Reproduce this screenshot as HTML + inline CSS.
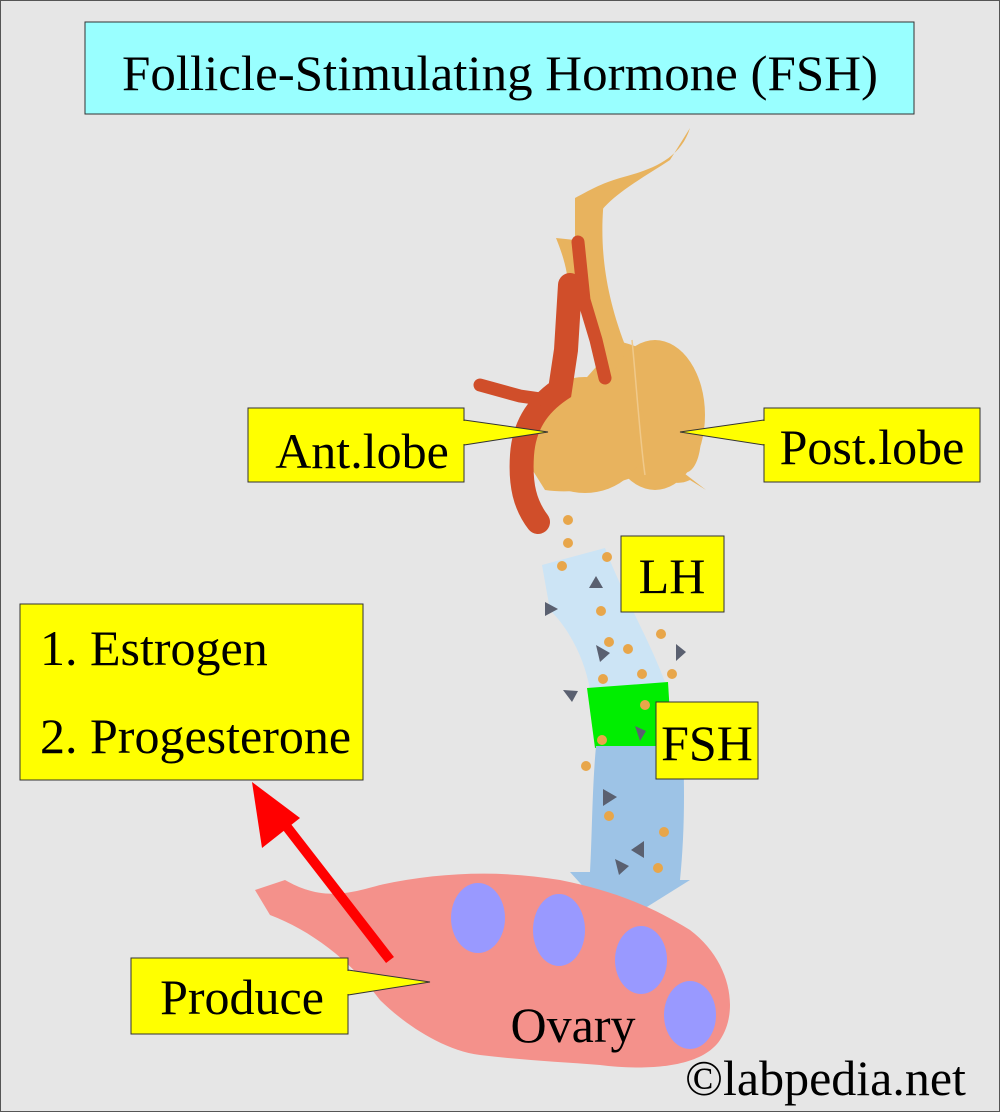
<!DOCTYPE html>
<html><head><meta charset="utf-8"><style>
html,body{margin:0;padding:0;background:#e6e6e6}
svg{display:block}
text{font-family:"Liberation Serif",serif;fill:#000}
</style></head><body>
<svg width="1000" height="1112" viewBox="0 0 1000 1112" xmlns="http://www.w3.org/2000/svg">
<rect x="0.5" y="0.5" width="999" height="1111" fill="#e6e6e6" stroke="#555" stroke-width="1"/>
<rect x="85" y="22" width="829" height="92" fill="#99ffff" stroke="#333" stroke-width="1"/>
<text x="500" y="90" font-size="50" text-anchor="middle" textLength="756" lengthAdjust="spacingAndGlyphs">Follicle-Stimulating Hormone (FSH)</text>

<!-- pituitary -->
<path d="M690,128 C680,160 650,170 620,178 C600,184 590,190 575,198 L575,240 L556,238 C565,260 570,280 568,300 L590,300 L605,340 C640,340 690,370 700,420 C705,460 690,480 680,470 L706,490 L690,480 C670,490 650,470 640,475 C610,485 580,495 545,490 L520,450 C525,420 545,395 580,385 L620,340 C610,300 600,260 590,230 C600,200 640,180 670,160 Z" fill="#e8b35e"/>
<path d="M575,200 L605,190 C600,230 600,280 625,345 L600,380 L580,300 Z" fill="#e8b35e"/>
<ellipse cx="655" cy="415" rx="50" ry="75" fill="#e8b35e"/>
<ellipse cx="585" cy="435" rx="62" ry="58" fill="#e8b35e"/>
<path d="M632,340 C636,380 640,440 645,475" stroke="#f0c98a" stroke-width="1.5" fill="none"/>
<!-- vessels -->
<path d="M578,242 L584,300 L596,340 L605,378" stroke="#d04e2a" stroke-width="13" stroke-linecap="round" fill="none"/>
<path d="M570,285 L566,350 L560,390 C538,405 524,425 522,455 C520,485 525,505 538,522" stroke="#d04e2a" stroke-width="24" stroke-linecap="round" fill="none"/>
<path d="M480,385 L520,396 L548,400" stroke="#d04e2a" stroke-width="13" stroke-linecap="round" fill="none"/>

<!-- hormone stream -->
<path d="M542,565 L605,548 C625,600 650,640 668,690 L590,690 C585,660 570,630 550,610 Z" fill="#cce4f5"/>
<path d="M587,688 L668,682 L672,748 L595,748 Z" fill="#00ee00"/>
<path d="M596,746 L683,746 C685,800 684,840 680,880 L690,880 L618,925 L570,872 L590,872 C592,840 592,790 596,746 Z" fill="#9dc3e6"/>
<g fill="#e8a64a">
<circle cx="568" cy="520" r="5"/><circle cx="568" cy="543" r="5"/><circle cx="562" cy="566" r="5"/>
<circle cx="607" cy="557" r="5"/><circle cx="601" cy="611" r="5"/><circle cx="609" cy="642" r="5"/>
<circle cx="628" cy="649" r="5"/><circle cx="661" cy="634" r="5"/><circle cx="642" cy="674" r="5"/>
<circle cx="603" cy="679" r="5"/><circle cx="672" cy="674" r="5"/><circle cx="645" cy="705" r="5"/>
<circle cx="602" cy="740" r="5"/><circle cx="586" cy="766" r="5"/><circle cx="609" cy="816" r="5"/>
<circle cx="664" cy="832" r="5"/><circle cx="658" cy="868" r="5"/>
</g>
<g fill="#5a6070">
<polygon points="589,588 603,588 596,576"/><polygon points="545,602 545,616 558,609"/>
<polygon points="596,645 600,662 610,653"/><polygon points="676,644 676,661 686,652"/>
<polygon points="563,690 572,702 578,691"/><polygon points="635,726 640,741 646,731"/>
<polygon points="603,789 603,806 617,797"/><polygon points="631,850 644,841 644,858"/>
<polygon points="615,859 619,875 629,866"/>
</g>

<!-- ovary -->
<path d="M255,890 L285,880 C320,900 345,895 380,885 C440,872 500,870 560,880 C610,890 650,905 690,930 C730,960 740,1010 720,1040 C700,1070 640,1070 600,1065 C560,1062 520,1060 480,1055 C440,1050 400,1020 380,1000 C350,960 310,930 270,915 Z" fill="#f4918b"/>
<g fill="#9999ff">
<ellipse cx="478" cy="918" rx="27" ry="35"/><ellipse cx="559" cy="930" rx="26" ry="36"/>
<ellipse cx="641" cy="960" rx="26" ry="34"/><ellipse cx="690" cy="1015" rx="26" ry="34"/>
</g>
<text x="573" y="1042" font-size="50" text-anchor="middle">Ovary</text>

<!-- red arrow -->
<line x1="390" y1="960" x2="280" y2="818" stroke="#ff0000" stroke-width="10"/>
<polygon points="252,782 300,818 262,848" fill="#ff0000"/>

<!-- callouts -->
<polygon points="464,420 548,432 464,445" fill="#ffff00" stroke="#333"/>
<rect x="248" y="408" width="216" height="74" fill="#ffff00" stroke="#333"/>
<rect x="463" y="421" width="3" height="23" fill="#ffff00"/>
<text x="362" y="468" font-size="50" text-anchor="middle">Ant.lobe</text>

<polygon points="764,420 680,432 764,445" fill="#ffff00" stroke="#333"/>
<rect x="764" y="408" width="216" height="74" fill="#ffff00" stroke="#333"/>
<rect x="762" y="421" width="3" height="23" fill="#ffff00"/>
<text x="872" y="464" font-size="50" text-anchor="middle">Post.lobe</text>

<rect x="621" y="536" width="103" height="76" fill="#ffff00" stroke="#333"/>
<text x="672" y="593" font-size="50" text-anchor="middle">LH</text>
<rect x="656" y="702" width="102" height="77" fill="#ffff00" stroke="#333"/>
<text x="707" y="760" font-size="50" text-anchor="middle">FSH</text>

<rect x="20" y="604" width="343" height="176" fill="#ffff00" stroke="#333"/>
<text x="40" y="665" font-size="50">1. Estrogen</text>
<text x="40" y="753" font-size="50">2. Progesterone</text>

<polygon points="348,970 430,982 348,995" fill="#ffff00" stroke="#333"/>
<rect x="131" y="958" width="217" height="76" fill="#ffff00" stroke="#333"/>
<rect x="346" y="971" width="3" height="23" fill="#ffff00"/>
<text x="242" y="1014" font-size="50" text-anchor="middle">Produce</text>

<text x="685" y="1095" font-size="50">©labpedia.net</text>
</svg>
</body></html>
